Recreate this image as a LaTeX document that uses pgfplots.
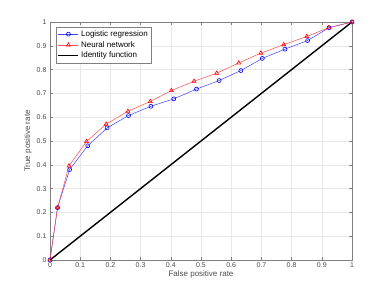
\documentclass[border=0pt]{standalone}
\usepackage{pgfplots}
\pgfplotsset{compat=1.18}
\usepackage{fontspec}
\setmainfont{Liberation Sans}
\definecolor{axgray}{gray}{0.5}
\definecolor{lblgray}{gray}{0.3}
\begin{document}
\begin{tikzpicture}
\begin{axis}[
  scale only axis, width=302pt, height=238pt,
  xmin=0, xmax=1, ymin=0, ymax=1,
  xtick={0,0.1,...,1}, ytick={0,0.1,...,1},
  xticklabels={0,0.1,0.2,0.3,0.4,0.5,0.6,0.7,0.8,0.9,1},
  yticklabels={0,0.1,0.2,0.3,0.4,0.5,0.6,0.7,0.8,0.9,1},
  /pgf/number format/assume math mode=true,
  tick align=inside, tick pos=both,
  major tick length=3pt,
  grid=major, grid style={gray!18, line width=0.4pt},
  axis line style={axgray, line width=0.5pt},
  every tick/.style={axgray, line width=0.5pt},
  tick label style={font=\fontsize{7}{8}\selectfont, text=lblgray},
  xticklabel style={yshift=1pt},
  label style={font=\fontsize{8}{9}\selectfont, text=lblgray},
  xlabel={False positive rate}, ylabel={True positive rate},
  xlabel style={yshift=4pt}, ylabel style={yshift=-2pt},
  legend image code/.code={\draw[mark repeat=2,mark phase=2,#1] plot coordinates {(0cm,0cm) (0.35cm,0cm) (0.7cm,0cm)};},
  legend style={font=\fontsize{8}{9}\selectfont, draw=axgray, line width=0.5pt, fill=white, inner sep=1.5pt, row sep=-0.5pt, at={(0.02,0.98)}, anchor=north west},
  legend cell align=left,
]
\addplot[blue!75, line width=0.5pt, mark=o, mark size=2pt, mark options={blue, line width=0.6pt}] coordinates {
(0,0) (0.025,0.22) (0.065,0.38) (0.125,0.48) (0.189,0.555) (0.26,0.607) (0.334,0.646) (0.41,0.677) (0.485,0.718) (0.56,0.754) (0.632,0.796) (0.703,0.847) (0.778,0.886) (0.853,0.922) (0.924,0.976) (1,1)};
\addlegendentry{Logistic regression}
\addplot[red!70, line width=0.5pt, mark=triangle, mark size=2.3pt, mark options={red, line width=0.6pt}] coordinates {
(0,0) (0.025,0.22) (0.063,0.395) (0.121,0.498) (0.186,0.571) (0.258,0.625) (0.332,0.666) (0.402,0.712) (0.477,0.751) (0.552,0.785) (0.625,0.828) (0.698,0.869) (0.774,0.905) (0.85,0.939) (0.923,0.976) (1,1)};
\addlegendentry{Neural network}
\addplot[black, line width=1.4pt] coordinates {(0,0) (1,1)};
\addlegendentry{Identity function}
\end{axis}
\path (current axis.south west) ++(-50pt,-32pt) rectangle ++(389pt,292pt);
\end{tikzpicture}
\end{document}
